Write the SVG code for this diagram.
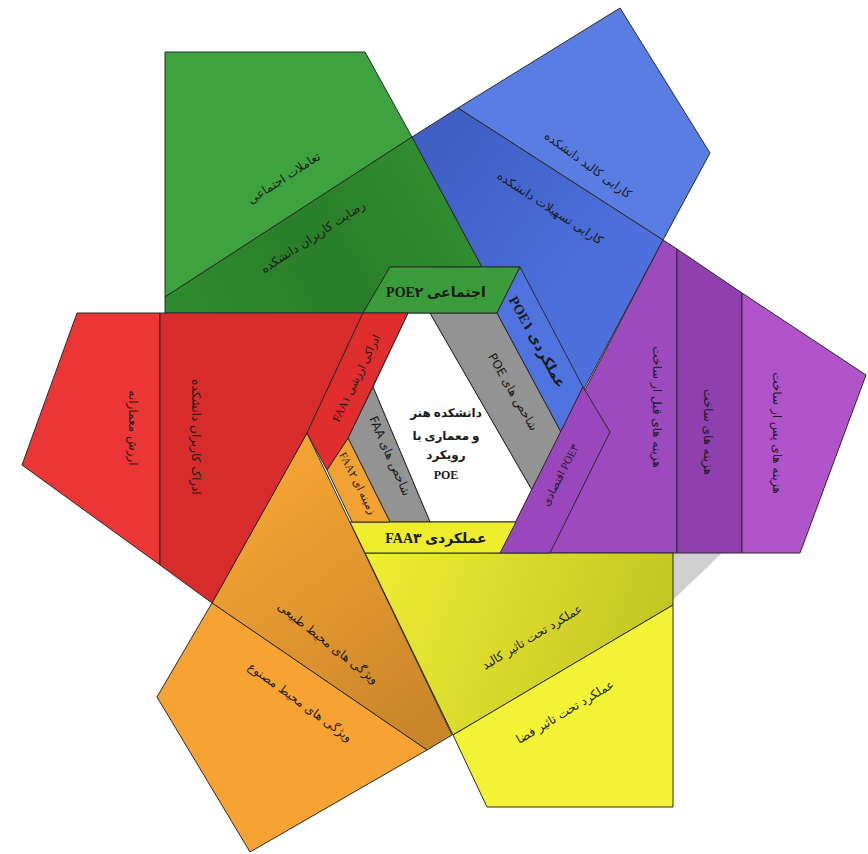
<svg xmlns="http://www.w3.org/2000/svg" width="868" height="854" viewBox="0 0 868 854">
<defs>
<style>
.e{stroke:#2a2a2a;stroke-width:1;stroke-linejoin:round}
.t{font-family:"DejaVu Sans","Noto Sans",sans-serif;font-size:12px;fill:#1a1a1a;text-anchor:middle;dominant-baseline:central}
.s{font-family:"Liberation Serif","DejaVu Sans",serif;font-size:14px;font-weight:bold;fill:#1a1a1a;text-anchor:middle;dominant-baseline:central}
.n{font-family:"Liberation Serif","DejaVu Sans",serif;font-size:11px;fill:#1a1a1a;text-anchor:middle;dominant-baseline:central}
.c{font-family:"Liberation Serif","DejaVu Sans",serif;font-size:12px;font-weight:bold;fill:#1a1a1a;text-anchor:middle}
</style>
<linearGradient id="gy" x1="365" y1="553" x2="673" y2="660" gradientUnits="userSpaceOnUse">
<stop offset="0" stop-color="#eeee34"/><stop offset="0.6" stop-color="#d4d42a"/><stop offset="1" stop-color="#c2c222"/>
</linearGradient>
<linearGradient id="go" x1="260" y1="500" x2="430" y2="730" gradientUnits="userSpaceOnUse">
<stop offset="0" stop-color="#f2a232"/><stop offset="1" stop-color="#c9852a"/>
</linearGradient>
<linearGradient id="gg" x1="200" y1="300" x2="420" y2="170" gradientUnits="userSpaceOnUse">
<stop offset="0" stop-color="#2e8a2e"/><stop offset="0.5" stop-color="#297e29"/><stop offset="1" stop-color="#2f8c2f"/>
</linearGradient>
<linearGradient id="gb" x1="450" y1="130" x2="620" y2="260" gradientUnits="userSpaceOnUse">
<stop offset="0" stop-color="#3f5fc4"/><stop offset="1" stop-color="#4d70dc"/>
</linearGradient>
</defs>

<polygon points="673,553 722,553 673,600" fill="#cfcfcf"/>

<g id="green">
<polygon class="e" points="165,52 365,52 412,137 165,297" fill="#3ea23e"/>
<polygon class="e" points="165,297 412,137 482,267 390,267 363,313 165,313" fill="url(#gg)"/>
<text class="t" transform="translate(284,178) rotate(-33)" direction="rtl">تعاملات اجتماعی</text>
<text class="t" transform="translate(313,237) rotate(-33)" direction="rtl">رضایت کاربران دانشکده</text>
</g>

<g id="blue">
<polygon class="e" points="458,108 620,8 710,153 663,240" fill="#5a7de3"/>
<polygon class="e" points="412,137 458,108 663,240 561,432 497,313 520,267 482,267" fill="url(#gb)"/>
<text class="t" transform="translate(588,165) rotate(36)" direction="rtl">کارایی کالبد دانشکده</text>
<text class="t" transform="translate(550,208) rotate(33)" direction="rtl">کارایی تسهیلات دانشکده</text>
</g>

<g id="purple">
<polygon class="e" points="663,240 677,249 677,553 500,553" fill="#9e4abf"/>
<polygon class="e" points="677,249 742,293 742,553 677,553" fill="#8f40ae"/>
<polygon class="e" points="742,293 866,375 800,553 742,553" fill="#b154c9"/>
<text class="t" transform="translate(657,407) rotate(90)" direction="rtl">هزینه های قبل از ساخت</text>
<text class="t" transform="translate(708,432) rotate(90)" direction="rtl">هزینه های ساخت</text>
<text class="t" transform="translate(777,433) rotate(90)" direction="rtl">هزینه های پس از ساخت</text>
</g>

<g id="yellow">
<polygon class="e" points="365,553 673,553 673,605 453,735" fill="url(#gy)"/>
<polygon class="e" points="453,735 673,605 673,807 487,807" fill="#f3f336"/>
<text class="t" transform="translate(532,637) rotate(-31)" direction="rtl">عملکرد تحت تاثیر کالبد</text>
<text class="t" transform="translate(565,712) rotate(-31)" direction="rtl">عملکرد تحت تاثیر فضا</text>
</g>

<g id="orange">
<polygon class="e" points="307,433 452,735 427,750 212,603" fill="url(#go)"/>
<polygon class="e" points="212,603 427,750 250,852 157,697" fill="#f6a334"/>
<text class="t" transform="translate(328,643) rotate(38)" direction="rtl">ویژگی های محیط طبیعی</text>
<text class="t" transform="translate(300,702) rotate(36)" direction="rtl">ویژگی های محیط مصنوع</text>
</g>

<g id="red">
<polygon class="e" points="77,313 160,313 160,565 22,465" fill="#ec3636"/>
<polygon class="e" points="160,313 363,313 307,433 212,603 160,565" fill="#d82b2b"/>
<text class="t" transform="translate(133,428) rotate(90)" direction="rtl">ارزش معمارانه</text>
<text class="t" transform="translate(196,437) rotate(90)" direction="rtl">ادراک کاربران دانشکده</text>
</g>

<g id="center">
<polygon class="e" points="408,313 430,313 532,490 516,522 430,522 373,387" fill="#ffffff"/>
<text class="c" x="446" y="417" direction="rtl">دانشکده هنر</text>
<text class="c" x="446" y="440" direction="rtl">و معماری با</text>
<text class="c" x="446" y="459" direction="rtl">رویکرد</text>
<text class="c" x="446" y="479">POE</text>
</g>

<g id="gray-poe">
<polygon class="e" points="430,313 497,313 561,432 532,490" fill="#939393"/>
<text class="t" transform="translate(513,392) rotate(60)" direction="rtl">شاخص های POE</text>
</g>

<g id="gray-faa">
<polygon class="e" points="373,387 430,522 390,522 348,438" fill="#939393"/>
<text class="t" font-size="10" transform="translate(390,456) rotate(66)" direction="rtl">شاخص های FAA</text>
</g>

<g id="strip-poe2">
<polygon class="e" points="390,267 520,267 497,313 363,313" fill="#3a9b3a"/>
<text class="s" x="436" y="292" direction="rtl">اجتماعی POE۲</text>
</g>

<g id="strip-poe1">
<polygon class="e" points="520,267 583,387 561,432 497,313" fill="#4f74df"/>
<text class="s" font-size="12" transform="translate(537,342) rotate(61)" direction="rtl">عملکردی POE۱</text>
</g>

<g id="strip-poe3">
<polygon class="e" points="583,387 610,432 550,553 500,553" fill="#9a47bd"/>
<text class="n" transform="translate(560,475) rotate(-63)" direction="ltr">اقتصادی POE۳</text>
</g>

<g id="strip-faa3">
<polygon class="e" points="350,522 516,522 500,553 365,553" fill="#eded2c"/>
<text class="s" x="436" y="538" direction="rtl">عملکردی FAA۳</text>
</g>

<g id="strip-faa2">
<polygon class="e" points="327,470 348,438 390,522 352,522" fill="#f2a232"/>
<text class="n" font-size="8" transform="translate(358,483) rotate(63)" direction="rtl">زمینه ای FAA۲</text>
</g>

<g id="strip-faa1">
<polygon class="e" points="363,313 408,313 348,438 327,470 307,433" fill="#e02d2d"/>
<text class="n" transform="translate(356,378) rotate(-64)" direction="rtl">ادراکی ارزشی FAA۱</text>
</g>

<g id="connectors"></g>
</svg>
